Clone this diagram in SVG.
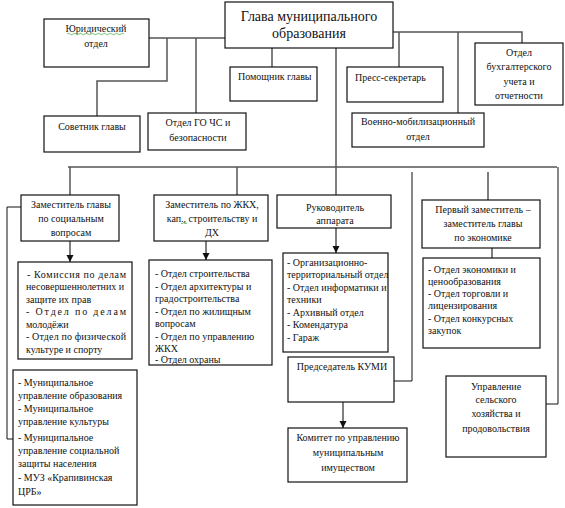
<svg xmlns="http://www.w3.org/2000/svg" width="565" height="508" viewBox="0 0 565 508" font-family="Liberation Serif, Times New Roman, serif">
<defs>
<style>
.box{fill:#fff;stroke:#111;stroke-width:1.2}
.ln{fill:none;stroke:#555;stroke-width:1.5}
.thin{fill:none;stroke:#111;stroke-width:1}
.t{font-size:10px;fill:#111}
.c{text-anchor:middle}
.title{font-size:14px;fill:#111;text-anchor:middle}
.sq{fill:none;stroke:#3a3;stroke-width:0.7}
</style>
<marker id="ah" markerWidth="8" markerHeight="8" refX="7" refY="4" orient="auto" markerUnits="userSpaceOnUse">
<path d="M0,0.5 L7,4 L0,7.5 Z" fill="#111"/>
</marker>
</defs>
<rect width="565" height="508" fill="#fff"/>
<g id="connectors">
<path class="ln" d="M149,38 H225"/>
<path class="ln" d="M167,38 V81 H97 V116"/>
<path class="ln" d="M196,38 V113"/>
<path class="ln" d="M272,48 V67"/>
<path class="ln" d="M393,32 H522 V43"/>
<path class="ln" d="M399,32 V67"/>
<path class="ln" d="M458,32 V113"/>
<path class="ln" d="M336,48 V195"/>
<path class="ln" d="M68,167 H557"/>
<path class="ln" d="M70,167 V195"/>
<path class="ln" d="M237,167 V195"/>
<path class="thin" d="M558,167 V404 H546"/>
<path class="thin" d="M412,172 V381 H394"/>
<path class="ln" d="M488,172 V200"/>
<path class="ln" d="M492,240 V258"/>
<path class="thin" d="M21,207 H7 V439 H13"/>
<path class="ln" d="M70,241 V262" marker-end="url(#ah)"/>
<path class="ln" d="M206,241 V260" marker-end="url(#ah)"/>
<path class="ln" d="M336,228 V253" marker-end="url(#ah)"/>
<path class="ln" d="M343,402 V428" marker-end="url(#ah)"/>
</g>
<g id="glava">
<rect class="box" x="225" y="2" width="168" height="46"/>
<text class="title" x="309" y="21">Глава муниципального</text>
<text class="title" x="309" y="38">образования</text>
</g>
<g id="yur">
<rect class="box" x="44" y="19" width="105" height="48"/>
<text class="t c" x="96" y="32">Юридический</text>
<path class="sq" d="M67,34 q1.5,-1.5 3,0 t3,0 t3,0 t3,0 t3,0 t3,0 t3,0 t3,0 t3,0 t3,0 t3,0 t3,0 t3,0 t3,0 t3,0 t3,0 t3,0 t3,0 t3,0"/>
<text class="t c" x="96" y="47">отдел</text>
</g>
<g id="sovetnik">
<rect class="box" x="44" y="116" width="96" height="36"/>
<text class="t c" x="92" y="130">Советник главы</text>
</g>
<g id="gochs">
<rect class="box" x="148" y="113" width="98" height="37"/>
<text class="t c" x="198" y="126">Отдел ГО ЧС и</text>
<text class="t c" x="198" y="141">безопасности</text>
</g>
<g id="pomoshnik">
<rect class="box" x="230" y="67" width="87" height="34"/>
<text class="t" x="238" y="80">Помощник главы</text>
</g>
<g id="press">
<rect class="box" x="347" y="67" width="96" height="35"/>
<text class="t" x="355" y="81">Пресс-секретарь</text>
</g>
<g id="buh">
<rect class="box" x="475" y="43" width="88" height="62"/>
<text class="t c" x="519" y="56">Отдел</text>
<text class="t c" x="519" y="70">бухгалтерского</text>
<text class="t c" x="519" y="84.5">учета и</text>
<text class="t c" x="519" y="99">отчетности</text>
</g>
<g id="voenno">
<rect class="box" x="352" y="113" width="132" height="34"/>
<text class="t c" x="418" y="125">Военно-мобилизационный</text>
<text class="t c" x="418" y="140">отдел</text>
</g>
<g id="zam-soc">
<rect class="box" x="21" y="195" width="98" height="46"/>
<text class="t c" x="71" y="207.5">Заместитель главы</text>
<text class="t c" x="71" y="221.5">по  социальным</text>
<text class="t c" x="71" y="235.5">вопросам</text>
</g>
<g id="zam-zhkh">
<rect class="box" x="154" y="195" width="114" height="46"/>
<text class="t c" x="212" y="207.5">Заместитель по ЖКХ,</text>
<text class="t c" x="212" y="221.5">кап., строительству и</text>
<path class="sq" d="M181,223 q1,1.5 2,0 t2,0 t2,0"/>
<text class="t c" x="212" y="235.5">ДХ</text>
</g>
<g id="rukovod">
<rect class="box" x="277" y="195" width="114" height="33"/>
<text class="t c" x="335" y="211">Руководитель</text>
<text class="t c" x="335" y="224">аппарата</text>
</g>
<g id="perv-zam">
<rect class="box" x="422" y="200" width="118" height="48"/>
<text class="t c" x="483" y="213">Первый заместитель –</text>
<text class="t c" x="483" y="227">заместитель главы</text>
<text class="t c" x="483" y="241">по экономике</text>
</g>
<g id="soc-list">
<rect class="box" x="18" y="262" width="114" height="97"/>
<text class="t" x="27" y="277.5" textLength="99" lengthAdjust="spacing">- Комиссия по делам</text>
<text class="t" x="26" y="290" textLength="98" lengthAdjust="spacing">несовершеннолетних и</text>
<text class="t" x="26" y="302.5">защите их прав</text>
<text class="t" x="26" y="315" textLength="100" lengthAdjust="spacing">- Отдел по делам</text>
<text class="t" x="26" y="327.5">молодёжи</text>
<text class="t" x="26" y="340" textLength="100" lengthAdjust="spacing">- Отдел по физической</text>
<text class="t" x="26" y="352.5">культуре и спорту</text>
</g>
<g id="zhkh-list">
<rect class="box" x="149" y="260" width="123" height="105"/>
<text class="t" x="155" y="277">- Отдел строительства</text>
<text class="t" x="155" y="289.5">- Отдел архитектуры и</text>
<text class="t" x="155" y="302">градостроительства</text>
<text class="t" x="155" y="314.5">- Отдел по жилищным</text>
<text class="t" x="155" y="327">вопросам</text>
<text class="t" x="155" y="339.5">- Отдел по управлению</text>
<text class="t" x="155" y="352">ЖКХ</text>
<text class="t" x="155" y="363">- Отдел охраны</text>
</g>
<g id="ruk-list">
<rect class="box" x="283" y="253" width="105" height="99"/>
<text class="t" x="287" y="266">- Организационно-</text>
<text class="t" x="287" y="278">территориальный отдел</text>
<text class="t" x="287" y="291">- Отдел информатики и</text>
<text class="t" x="287" y="303">техники</text>
<text class="t" x="287" y="316">- Архивный отдел</text>
<text class="t" x="287" y="328">- Комендатура</text>
<text class="t" x="287" y="340.5">- Гараж</text>
</g>
<g id="econ-list">
<rect class="box" x="423" y="258" width="117" height="90"/>
<text class="t" x="428" y="272.5">- Отдел экономики и</text>
<text class="t" x="428" y="285">ценообразования</text>
<text class="t" x="428" y="297">- Отдел торговли и</text>
<text class="t" x="428" y="309">лицензирования</text>
<text class="t" x="428" y="321.5">- Отдел конкурсных</text>
<text class="t" x="428" y="333.5">закупок</text>
</g>
<g id="mun-list">
<rect class="box" x="13" y="370" width="124" height="135"/>
<text class="t" x="18" y="385.5">- Муниципальное</text>
<text class="t" x="18" y="398.5">управление образования</text>
<text class="t" x="18" y="411.5">- Муниципальное</text>
<text class="t" x="18" y="425">управление культуры</text>
<text class="t" x="18" y="440.5">- Муниципальное</text>
<text class="t" x="18" y="453.5">управление социальной</text>
<text class="t" x="18" y="466.5">защиты населения</text>
<text class="t" x="18" y="480.5">- МУЗ  «Крапивинская</text>
<text class="t" x="18" y="494.5">ЦРБ»</text>
</g>
<g id="kumi">
<rect class="box" x="288" y="357" width="106" height="45"/>
<text class="t c" x="342" y="370">Председатель КУМИ</text>
</g>
<g id="komitet">
<rect class="box" x="288" y="428" width="119" height="54"/>
<text class="t c" x="348" y="441">Комитет по управлению</text>
<text class="t c" x="348" y="456">муниципальным</text>
<text class="t c" x="348" y="471">имуществом</text>
</g>
<g id="selhoz">
<rect class="box" x="446" y="376" width="100" height="81"/>
<text class="t c" x="496" y="389.5">Управление</text>
<text class="t c" x="496" y="403">сельского</text>
<text class="t c" x="496" y="417">хозяйства и</text>
<text class="t c" x="496" y="432">продовольствия</text>
</g>
</svg>
